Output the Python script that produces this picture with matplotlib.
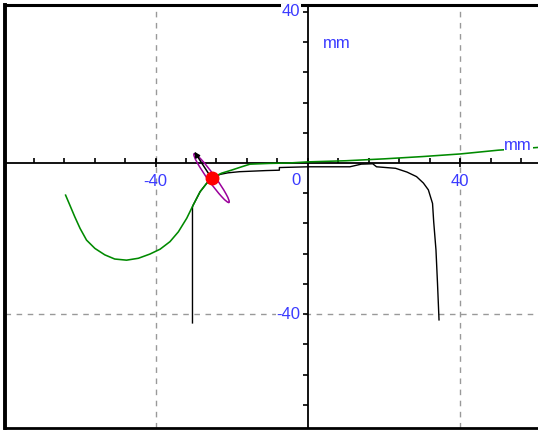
import numpy as np
import matplotlib
matplotlib.use("Agg")
import matplotlib.pyplot as plt
from matplotlib.patches import Ellipse

# ---- data (mm) ----
green_x = [-63.6, -62.5, -61.2, -59.8, -58.1, -55.9, -53.3, -50.7, -47.6, -44.5, -41.5,
           -38.8, -36.2, -34.0, -31.8, -30.1, -28.3, -26.6, -25.2, -22.7, -20.1, -17.4,
           -15.2, -10.0, -5.0, 0.0, 10.0, 20.0, 30.0, 40.0, 50.0, 63.0]
green_y = [-8.5, -11.1, -14.2, -17.3, -20.4, -22.6, -24.3, -25.4, -25.7, -25.2, -24.1,
           -22.8, -20.8, -18.2, -14.6, -11.1, -7.6, -5.4, -4.0, -2.7, -1.9, -1.0,
           -0.3, -0.1, 0.0, 0.3, 0.6, 1.1, 1.7, 2.4, 3.4, 4.3]

black_x = [-30.3, -30.3, -30.1, -28.3, -26.6, -25.3, -23.0, -21.0, -18.0, -11.0, -7.5,
           -7.5, 0.0, 11.0, 14.0, 17.0, 18.0, 23.0, 26.0, 28.5, 30.3, 31.6, 32.7, 33.0,
           33.6, 34.0, 34.4]
black_y = [-42.3, -11.6, -11.1, -7.6, -5.4, -4.0, -3.0, -2.6, -2.3, -2.0, -1.9,
           -1.2, -1.0, -1.0, -0.3, -0.2, -1.0, -1.4, -2.4, -3.6, -5.3, -7.1, -10.7,
           -15.5, -23.0, -31.8, -41.5]

point_x, point_y = -25.3, -4.0
arrow_tip = (-29.8, 3.0)
ellipse_major, ellipse_minor, ellipse_angle = 15.8, 1.9, -54.5

x_tick_labels = ["-40", "0", "40"]
y_tick_labels = ["40", "-40"]
grid_x = [-40, 40]
grid_y = [-40]
unit = "mm"

blue = "#3a3aff"
plt.rcParams['font.family'] = ['Liberation Sans', 'DejaVu Sans']

W, H = 538, 430
fig = plt.figure(figsize=(W / 100, H / 100), dpi=100)
ax = fig.add_axes([5 / W, 2 / H, 543 / W, 423 / H])
ax.set_xlim(-79.5, 63.0)
ax.set_ylim(-70.1, 41.8)
ax.set_xticks([])
ax.set_yticks([])
ax.spines["left"].set_linewidth(2.8)
ax.spines["top"].set_linewidth(2.2)
ax.spines["bottom"].set_linewidth(2.0)
ax.spines["right"].set_visible(False)

# grid
for gx in grid_x:
    ax.axvline(gx, color="#999999", lw=1.0, ls=(0, (4, 4)), zorder=1)
for gy in grid_y:
    ax.axhline(gy, color="#999999", lw=1.0, ls=(0, (4, 4)), zorder=1)

# zero axes
ax.axhline(0, color="black", lw=1.3, zorder=2)
ax.axvline(0, color="black", lw=1.3, zorder=2)
ticks_x = np.arange(-72, 63, 8)
ax.plot(ticks_x, np.zeros_like(ticks_x), ls="none", marker=2, ms=3.5, mew=1.2,
        color="black", zorder=2)
ticks_y = np.arange(-64, 41, 8)
ticks_y = ticks_y[ticks_y != 0]
ax.plot(np.zeros_like(ticks_y), ticks_y, ls="none", marker=0, ms=3.5, mew=1.2,
        color="black", zorder=2)
for gx in grid_x:
    ax.plot([gx], [0], ls="none", marker="|", ms=6, mew=1.2, color="black", zorder=2)

# curves
ax.plot(black_x, black_y, color="black", lw=1.0, zorder=3)
ax.plot(green_x, green_y, color="#008a00", lw=1.15, zorder=4)

# ellipse, arrow, point
ax.add_patch(Ellipse((point_x, point_y), ellipse_major, ellipse_minor, angle=ellipse_angle,
                     fill=False, edgecolor="#9b009b", lw=1.1, zorder=5))
ax.annotate("", xy=arrow_tip, xytext=(point_x, point_y),
            arrowprops=dict(arrowstyle="-|>", color="black", lw=1.1,
                            mutation_scale=8, shrinkA=0, shrinkB=0), zorder=6)
ax.plot([point_x], [point_y], "o", color="red", ms=9, zorder=7)

# labels
fs = 12
tkw = dict(color=blue, fontsize=fs, zorder=8)
bbox = dict(facecolor="white", edgecolor="none", pad=0.5)
ax.text(-40, -5.0, x_tick_labels[0], ha="center", va="center", **tkw)
ax.text(-3.2, -4.6, x_tick_labels[1], ha="center", va="center", **tkw)
ax.text(40, -5.0, x_tick_labels[2], ha="center", va="center", **tkw)
ax.text(-2.0, 40, y_tick_labels[0], ha="right", va="center", bbox=bbox, **tkw)
ax.text(-2.0, -40, y_tick_labels[1], ha="right", va="center", bbox=bbox, **tkw)
ax.text(7.6, 31.5, unit, ha="center", va="center", **tkw)
ax.text(55.2, 4.5, unit, ha="center", va="center", bbox=bbox, **tkw)

fig.savefig("out.png", dpi=100)
